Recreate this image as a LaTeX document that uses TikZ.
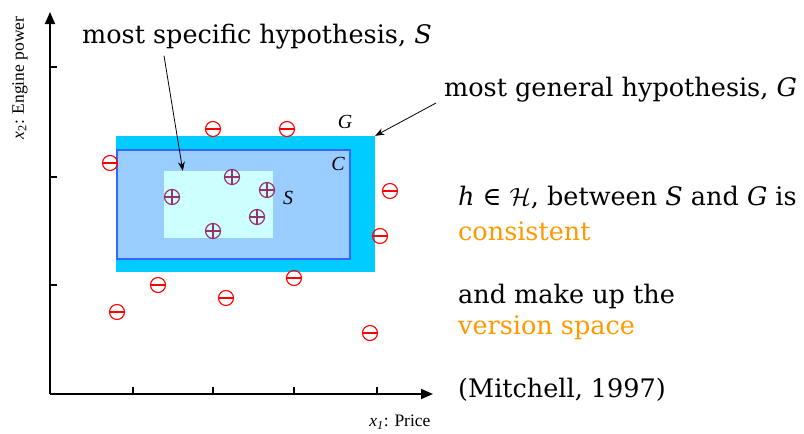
\documentclass[tikz,border=0pt]{standalone}
\usepackage{fontspec}
\setmainfont{DejaVu Serif}
\newfontfamily\tms{Liberation Serif}
\usetikzlibrary{arrows.meta,positioning}
\definecolor{gcyan}{HTML}{00CCFF}
\definecolor{cfill}{HTML}{99CCFF}
\definecolor{cline}{HTML}{3366FF}
\definecolor{sfill}{HTML}{CCFFFF}
\definecolor{plusc}{HTML}{993366}
\definecolor{hiorange}{HTML}{FF9900}
\tikzset{
  negpt/.style={circle,draw=red,line width=1.1pt,minimum size=15pt,inner sep=0pt,
    path picture={\draw[red,line width=1.2pt] (path picture bounding box.west) -- (path picture bounding box.east);}},
  pospt/.style={circle,draw=plusc,line width=1.2pt,minimum size=15pt,inner sep=0pt,
    path picture={\draw[plusc,line width=1.2pt] (path picture bounding box.west) -- (path picture bounding box.east)
      (path picture bounding box.north) -- (path picture bounding box.south);}},
  boxlbl/.style={font=\tms\itshape\fontsize{20}{23}\selectfont},
  axlbl/.style={font=\tms\fontsize{17.5}{20}\selectfont},
  txt/.style={anchor=west,font=\fontsize{25.5}{30}\selectfont,inner sep=0pt},
  axis/.style={line width=1.8pt,-{Triangle[length=12pt,width=10pt]}},
  callout/.style={line width=0.8pt,-{Stealth[length=9pt,width=7pt]}}
}
\begin{document}
\begin{tikzpicture}[x=1pt,y=-1pt]
\useasboundingbox (0,0) rectangle (804,434);
% hypothesis boxes
\node[fill=gcyan,minimum width=259pt,minimum height=136pt,inner sep=0pt] (gbox) at (245.5,204) {};
\node[fill=cfill,draw=cline,line width=1.3pt,minimum width=233pt,minimum height=109pt,inner sep=0pt] (cbox) at (233.5,204.5) {};
\node[fill=sfill,minimum width=109pt,minimum height=67pt,inner sep=0pt] (sbox) at (218.5,204.5) {};
\node[boxlbl] (glbl) at (345,122) {G};
\node[boxlbl] (clbl) at (338,164) {C};
\node[boxlbl] (slbl) at (288,198) {S};
% axes
\coordinate (orig) at (50,394);
\coordinate (xend) at (433,394);
\coordinate (yend) at (50,12);
\draw[axis] (orig) -- (xend);
\draw[axis] (orig) -- (yend);
\foreach \t in {133,213,294,377} \draw[line width=1.3pt] (\t,394) -- (\t,387);
\foreach \t in {67,177,285} \draw[line width=1.3pt] (50,\t) -- (57,\t);
\node[axlbl,anchor=east] (xlbl) at (434,422) {\textit{x}\textsubscript{\textit{1}}: Price};
\node[axlbl,rotate=90] (ylbl) at (20,78) {\textit{x}\textsubscript{2}: Engine power};
% examples
\foreach \x/\y [count=\i] in {110/163,213/129,287/129,390/191,380/236,294/278,158/285,226/298,117/312,370/333}
  \node[negpt] (n\i) at (\x,\y) {};
\foreach \x/\y [count=\i] in {172/197,232/177,267/190,257/217,213/231}
  \node[pospt] (p\i) at (\x,\y) {};
% callouts
\node[txt] (specific) at (82,37) {most specific hypothesis, \textit{S}};
\node[txt] (general) at (444,90) {most general hypothesis, \textit{G}};
\draw[callout] ([xshift=82pt,yshift=-6pt]specific.south west) -- ([xshift=19pt]sbox.north west);
\draw[callout] ([xshift=-8pt,yshift=-13pt]general.west) -- (gbox.north east);
% right text
\node[txt] (hline) at (458,198) {\textit{h} ∈ $\mathcal{H}$, between \textit{S} and \textit{G} is};
\node[txt,text=hiorange] (cons) at (458,231) {consistent};
\node[txt] (make) at (458,296) {and make up the};
\node[txt,text=hiorange] (vs) at (458,328) {version space};
\node[txt] (cite) at (458,390) {(Mitchell, 1997)};
\end{tikzpicture}
\end{document}
